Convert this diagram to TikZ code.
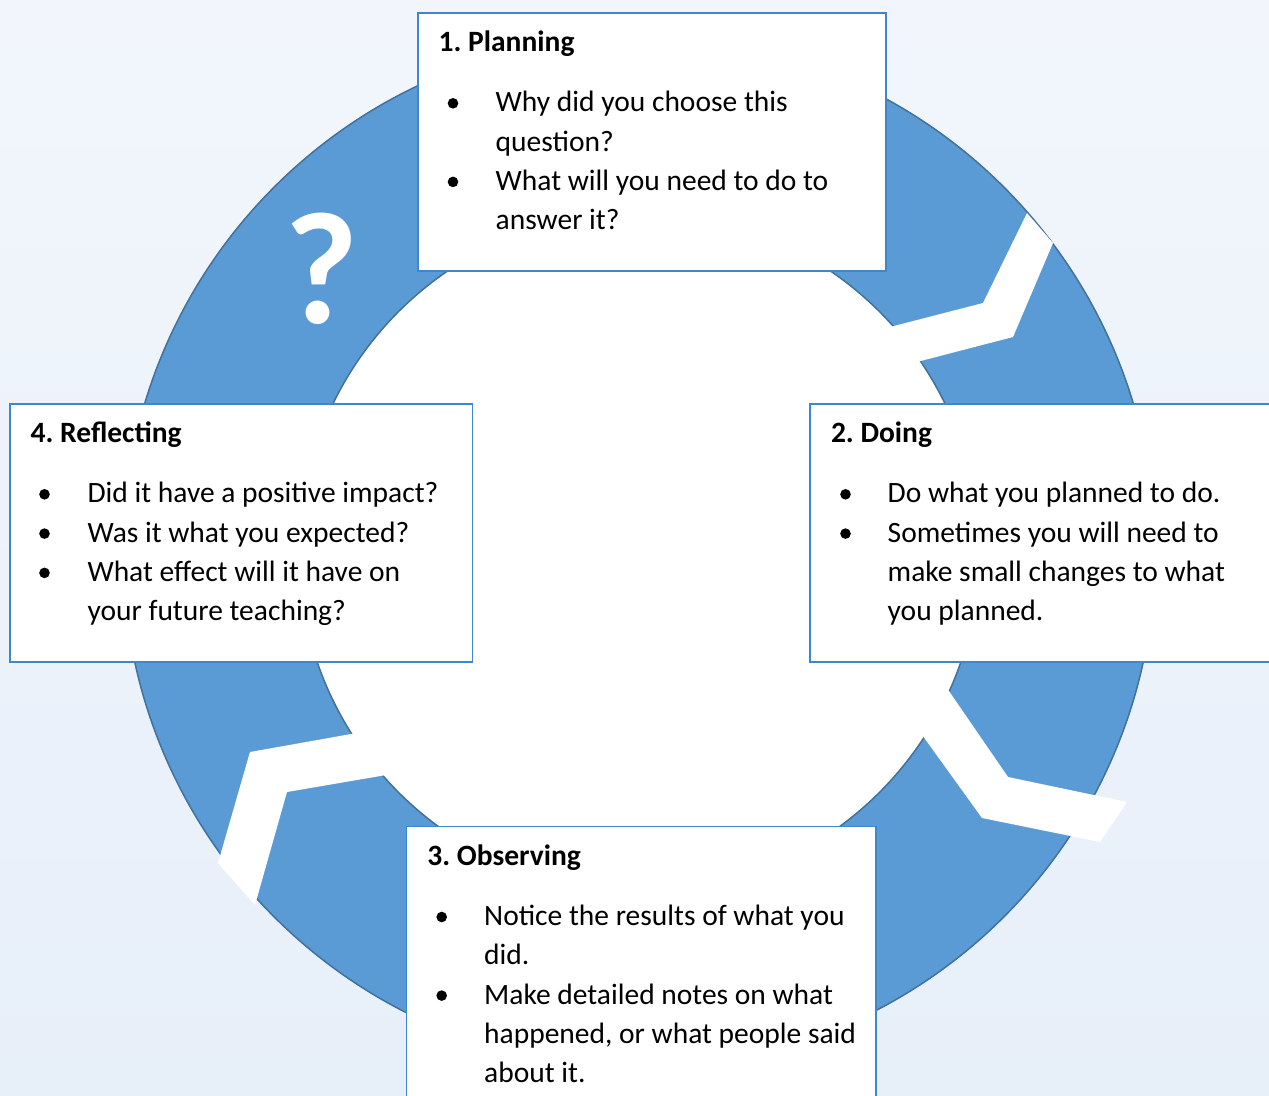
\documentclass[tikz,border=0pt]{standalone}
\usepackage{fontspec}
\setmainfont{Carlito}
\frenchspacing
\definecolor{ringblue}{HTML}{5B9BD5}
\definecolor{ringline}{HTML}{41719C}
\definecolor{boxblue}{HTML}{3E87CB}
\definecolor{bgtop}{HTML}{F2F6FC}
\definecolor{bgbot}{HTML}{E7EFF9}
\newcommand\bodyfnt{\fontsize{29.5}{39}\selectfont}
\newcommand\ttlfnt{\fontsize{29.5}{39}\selectfont\bfseries}
\newcommand\qfnt{\fontsize{160}{160}\selectfont\bfseries}
\tikzset{
  boxframe/.style={draw=boxblue, fill=white, line width=1.5pt, rectangle, inner sep=0pt, anchor=north west},
  ttl/.style={anchor=base west, inner sep=0pt, font=\ttlfnt},
  body/.style={anchor=base west, inner sep=0pt, font=\bodyfnt},
  bul/.style={fill=black, circle, inner sep=0pt, minimum size=10.6pt},
  gap/.style={fill=white, draw=none},
}
\begin{document}
\begin{tikzpicture}[x=1pt,y=-1pt]
\useasboundingbox (0,0) rectangle (1269,1095);
\clip (0,0) rectangle (1269,1095);
\shade[top color=bgtop, bottom color=bgbot] (0,0) rectangle (1269,1095);
\coordinate (c) at (639,552);
% ring
\fill[white] (c) circle (340);
\fill[ringblue, even odd rule] (c) circle (516) (c) circle (340);
\draw[ringline, line width=1.5pt] (c) circle (516);
\draw[ringline, line width=1.5pt] (c) circle (340);
% white chevron gaps
\fill[gap] (1027,213) -- (983,303) -- (859,335) -- (886,370) -- (1013,337) -- (1053,243) -- cycle;
\fill[gap] (929,662) -- (1008,777) -- (1127,802) -- (1100,842) -- (982,818) -- (902,707) -- cycle;
\fill[gap] (396,726) -- (250,752) -- (218,863) -- (255,905) -- (287,792) -- (427,768) -- cycle;
% question mark
\node[anchor=base, inner sep=0pt, text=white, font=\qfnt] (qm) at (322,323) {?};
% boxes
\node[boxframe, minimum width=468pt, minimum height=258pt] (box1) at (417,12) {};
\node[boxframe, minimum width=480pt, minimum height=258pt] (box2) at (809.3,403) {};
\node[boxframe, minimum width=469.3pt, minimum height=300pt] (box3) at (405.7,825.7) {};
\node[boxframe, minimum width=462.5pt, minimum height=258pt] (box4) at (9,403) {};
% box 1
\node[ttl] (t1) at (438.5,51.7) {1. Planning};
\node[bul] (d1a) at (453,103.3) {};
\node[body] (l1a) at (495.5,111.7) {Why did you choose this};
\node[body] (l1b) at (495.5,151) {question?};
\node[bul] (d1b) at (453,181.9) {};
\node[body] (l1c) at (495.5,190.3) {What will you need to do to};
\node[body] (l1d) at (495.5,229.6) {answer it?};
% box 2
\node[ttl] (t2) at (830.8,442.7) {2. Doing};
\node[bul] (d2a) at (845.5,494.3) {};
\node[body] (l2a) at (887.5,502.7) {Do what you planned to do.};
\node[bul] (d2b) at (845.5,533.6) {};
\node[body] (l2b) at (887.5,542) {Sometimes you will need to};
\node[body] (l2c) at (887.5,581.3) {make small changes to what};
\node[body] (l2d) at (887.5,620.6) {you planned.};
% box 3
\node[ttl] (t3) at (427.2,865.4) {3. Observing};
\node[bul] (d3a) at (441.7,917) {};
\node[body] (l3a) at (484,925.4) {Notice the results of what you};
\node[body] (l3b) at (484,964.7) {did.};
\node[bul] (d3b) at (441.7,995.6) {};
\node[body] (l3c) at (484,1004) {Make detailed notes on what};
\node[body] (l3d) at (484,1043.3) {happened, or what people said};
\node[body] (l3e) at (484,1082.6) {about it.};
% box 4
\node[ttl] (t4) at (30.5,442.7) {4. Reflecting};
\node[bul] (d4a) at (44.5,494.3) {};
\node[body] (l4a) at (87.3,502.7) {Did it have a positive impact?};
\node[bul] (d4b) at (44.5,533.6) {};
\node[body] (l4b) at (87.3,542) {Was it what you expected?};
\node[bul] (d4c) at (44.5,572.9) {};
\node[body] (l4c) at (87.3,581.3) {What effect will it have on};
\node[body] (l4d) at (87.3,620.6) {your future teaching?};
\end{tikzpicture}
\end{document}
